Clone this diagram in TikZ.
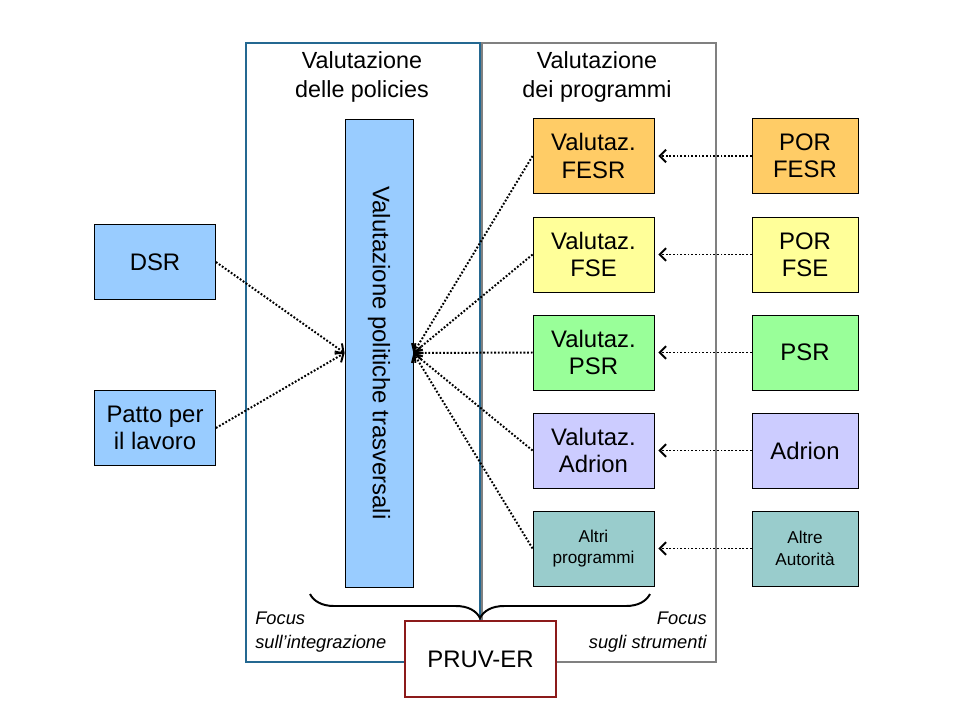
\documentclass[tikz,border=0pt]{standalone}
\usepackage{fontspec}
\setmainfont{Liberation Sans}
\usetikzlibrary{arrows.meta,calc,decorations.pathreplacing}
\definecolor{polblue}{RGB}{153,204,255}
\definecolor{fesr}{RGB}{255,204,102}
\definecolor{fse}{RGB}{255,255,153}
\definecolor{psr}{RGB}{153,255,153}
\definecolor{adrion}{RGB}{204,204,255}
\definecolor{altri}{RGB}{153,204,204}
\definecolor{frameblue}{RGB}{36,104,145}
\definecolor{framegray}{RGB}{128,128,128}
\definecolor{pruvred}{RGB}{140,26,26}
\tikzset{pin/.style={-{Straight Barb[length=4.5pt,width=9pt]}, line width=1.4pt, dash pattern=on 1.3pt off 1.3pt},
  blk/.style={draw, line width=0.6pt, minimum width=30.25mm, minimum height=18.75mm, align=center, font=\fontsize{17}{19.5}\selectfont},
  src/.style={blk, minimum width=26.5mm},
  small/.style={font=\fontsize{12.2}{15.5}\selectfont},
  head/.style={align=center, font=\fontsize{16.6}{20.5}\selectfont},
  focus/.style={inner sep=0pt, font=\fontsize{13}{17}\selectfont\itshape}}

\begin{document}
\begin{tikzpicture}[x=0.25mm, y=-0.25mm]
  \useasboundingbox (0,0) rectangle (960,720);
  % frames
  \draw[framegray, line width=1.4pt] (482,43) rectangle (716,662);
  \draw[frameblue, line width=1.4pt] (246,43) rectangle (480,662);
  \node[head] (hpol) at (362,77) {Valutazione\\delle policies};
  \node[head] (hprog) at (597,77) {Valutazione\\dei programmi};
  % boxes
  \node[blk, fill=polblue, rotate=-90, minimum width=117mm, minimum height=17mm] (tall) at (379,353) {Valutazione politiche trasversali};
  \node[blk, fill=polblue] (dsr) at (155,262) {DSR};
  \node[blk, fill=polblue] (patto) at (155,428) {Patto per\\il lavoro};
  \node[blk, fill=fesr] (v1) at (593.5,156) {Valutaz.\\FESR};
  \node[blk, fill=fse] (v2) at (593.5,254.5) {Valutaz.\\FSE};
  \node[blk, fill=psr] (v3) at (593.5,352.5) {Valutaz.\\PSR};
  \node[blk, fill=adrion] (v4) at (593.5,450.5) {Valutaz.\\Adrion};
  \node[blk, fill=altri, small] (v5) at (593.5,548.5) {Altri\\programmi};
  \node[src, fill=fesr] (s1) at (805,156) {POR\\FESR};
  \node[src, fill=fse] (s2) at (805,254.5) {POR\\FSE};
  \node[src, fill=psr] (s3) at (805,352.5) {PSR};
  \node[src, fill=adrion] (s4) at (805,450.5) {Adrion};
  \node[src, fill=altri, small] (s5) at (805,548.5) {Altre\\Autorità};
  % arrows
  \draw[pin] (dsr.east) -- (tall.south);
  \draw[pin] (patto.east) -- (tall.south);
  \draw[pin] (v1.west) -- (tall.north);
  \draw[pin] (v2.west) -- (tall.north);
  \draw[pin] (v3.west) -- (tall.north);
  \draw[pin] (v4.west) -- (tall.north);
  \draw[pin] (v5.west) -- (tall.north);
  \draw[pin, shorten >=1mm] (s1.west) -- (v1.east);
  \draw[pin, shorten >=1mm] (s2.west) -- (v2.east);
  \draw[pin, shorten >=1mm] (s3.west) -- (v3.east);
  \draw[pin, shorten >=1mm] (s4.west) -- (v4.east);
  \draw[pin, shorten >=1mm] (s5.west) -- (v5.east);
  % brace and PRUV-ER
  \draw[line width=1.4pt, decorate, decoration={brace, amplitude=6mm, mirror}] (310,594) -- (650,594);
  \node[focus, anchor=north west, align=left] (fint) at (255,612) {Focus\\sull’integrazione};
  \node[focus, anchor=north east, align=right] (fstr) at (707,612) {Focus\\sugli strumenti};
  \node[draw=pruvred, line width=2pt, fill=white, minimum width=37.75mm, minimum height=19mm, font=\fontsize{17}{19.5}\selectfont] (pruv) at (480.5,659) {PRUV-ER};
\end{tikzpicture}
\end{document}
